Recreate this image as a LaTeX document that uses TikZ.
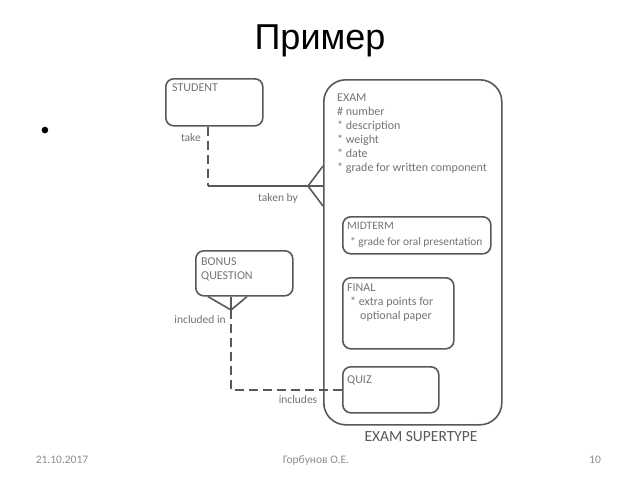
\documentclass[tikz,border=0pt]{standalone}
\usepackage{fontspec}
\setmainfont{Carlito}
\newfontfamily\titlefont{Liberation Sans}
\usetikzlibrary{positioning}
\definecolor{linegray}{RGB}{88,88,88}
\definecolor{textgray}{RGB}{115,115,115}
\definecolor{footgray}{RGB}{140,140,140}

\begin{document}
\begin{tikzpicture}[x=1pt,y=-1pt,
  box/.style={draw=linegray,line width=1.6pt,rounded corners=8pt,anchor=north west,inner sep=0pt},
  txt/.style={text=textgray,font=\fontsize{12}{14}\selectfont,align=left,inner sep=0pt,anchor=north west},
  lbl/.style={text=textgray,font=\fontsize{11.5}{14}\selectfont,inner sep=0pt},
  link/.style={draw=linegray,line width=1.6pt},
  dashlink/.style={link,dash pattern=on 9pt off 5pt},
  foot/.style={text=footgray,font=\fontsize{11.5}{13}\selectfont,inner sep=0pt,anchor=base}]
\useasboundingbox (0,0) rectangle (640,480);

\node[font=\titlefont\fontsize{36}{40}\selectfont,inner sep=0pt] (title) at (320,41) {Пример};
\node[font=\titlefont\fontsize{24}{26}\selectfont,inner sep=0pt] (bullet) at (45,133) {•};

\node[box,rounded corners=22pt,minimum width=178pt,minimum height=345pt] (exam) at (323,79) {};
\node[box,minimum width=97pt,minimum height=47pt] (student) at (165,78) {};
\node[box,minimum width=97pt,minimum height=45pt] (bonus) at (195,250) {};
\node[box,minimum width=148pt,minimum height=37pt] (midterm) at (342,216) {};
\node[box,minimum width=111pt,minimum height=71pt] (final) at (342,277) {};
\node[box,minimum width=96pt,minimum height=46pt] (quiz) at (342,366) {};

\node[txt] (studenttxt) at (172,84) {STUDENT};
\node[txt] (examtxt) at (337,94) {EXAM\\\# number\\* description\\* weight\\* date\\* grade for written component};
\node[txt,font=\fontsize{11.4}{14}\selectfont] (midtermtxt) at (347,222) {MIDTERM\\[2pt]\hspace*{3pt}* grade for oral presentation};
\node[txt] (finaltxt) at (347,284) {FINAL\\\hspace*{3pt}* extra points for\\\hspace*{13pt}optional paper};
\node[txt] (quiztxt) at (347,376) {QUIZ};
\node[txt] (bonustxt) at (201,258) {BONUS\\QUESTION};
\node[text=linegray,font=\fontsize{15.5}{17}\selectfont,inner sep=0pt] (supertype) at (421,437) {EXAM SUPERTYPE};

\coordinate (takejoint) at (208,186);
\coordinate (takefork) at (308,186);
\draw[dashlink] (student.south -| takejoint) -- (takejoint);
\draw[link] (takejoint) -- (exam.west |- takejoint);
\draw[link] (exam.west |- 0,166) -- (takefork) -- (exam.west |- 0,206);
\node[lbl,anchor=east] (take) at (201,138) {take};
\node[lbl] (takenby) at (278,198) {taken by};

\coordinate (bonusfork) at (231,310);
\coordinate (bonusjoint) at (231,390);
\draw[link] (bonus.south -| 208,0) -- (bonusfork) -- (bonus.south -| 247,0);
\draw[link] (bonus.south -| bonusfork) -- (bonusfork);
\draw[dashlink] (bonusfork) -- (bonusjoint) -- (quiz.west |- bonusjoint);
\node[lbl,anchor=east] (includedin) at (226,320) {included in};
\node[lbl] (includes) at (298,400) {includes};

\node[foot] (date) at (62,463) {21.10.2017};
\node[foot] (author) at (316,463) {Горбунов О.Е.};
\node[foot] (page) at (595,463) {10};
\end{tikzpicture}
\end{document}
